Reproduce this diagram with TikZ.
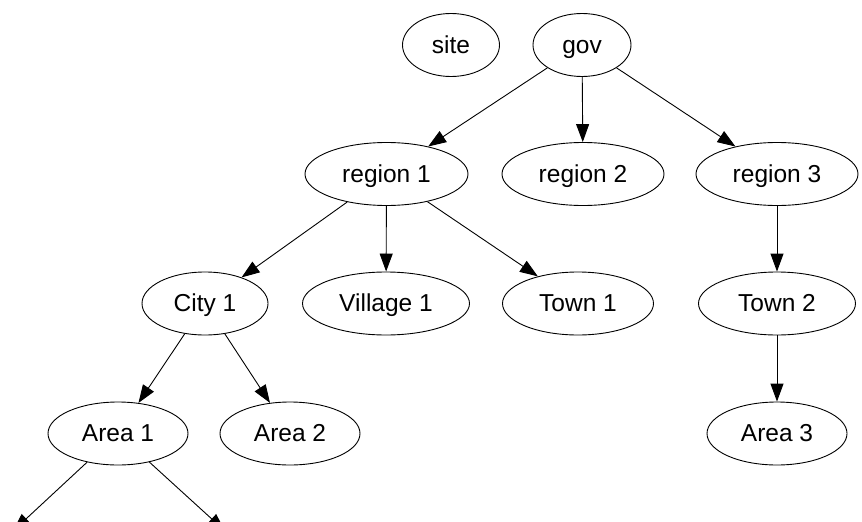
\documentclass[tikz,border=0pt]{standalone}
\usepackage{fontspec}
\setmainfont{Liberation Sans}
\usetikzlibrary{shapes.geometric,arrows.meta}
\begin{document}
\begin{tikzpicture}[x=1pt,y=-1pt,
  nd/.style={draw=black,line width=0.9pt,ellipse,inner sep=0pt,text height=17pt,text depth=1pt,font=\fontsize{24.5}{26}\selectfont},
  edge/.style={draw=black,line width=0.9pt,-{Triangle[length=18pt,width=13pt]}}]
\useasboundingbox (0,0) rectangle (862,522);
\clip (0,0) rectangle (862,522);
\fill[white] (0,0) rectangle (862,522);
\newcommand{\ellnode}[5]{%
  \node[nd,minimum width=#4pt,minimum height=63pt] (#1) at (#2,#3) {#5};}
\ellnode{site}{451}{45}{97}{site}
\ellnode{gov}{582}{45}{98}{gov}
\ellnode{r1}{386.5}{174}{163}{region 1}
\ellnode{r2}{583}{174}{162}{region 2}
\ellnode{r3}{777}{174}{162}{region 3}
\ellnode{c1}{205}{303.5}{126}{City 1}
\ellnode{v1}{386}{303.5}{167}{Village 1}
\ellnode{t1}{578}{303.5}{151}{Town 1}
\ellnode{t2}{777}{303.5}{157}{Town 2}
\ellnode{a1}{118}{433.5}{140}{Area 1}
\ellnode{a2}{290}{433.5}{140}{Area 2}
\ellnode{a3}{777}{433.5}{140}{Area 3}
\coordinate (x1) at (13,531);
\coordinate (x2) at (225,531);
\draw[edge] (gov) -- (r1);
\draw[edge] (gov) -- (r2);
\draw[edge] (gov) -- (r3);
\draw[edge] (r1) -- (c1);
\draw[edge] (r1) -- (v1);
\draw[edge] (r1) -- (t1);
\draw[edge] (r3) -- (t2);
\draw[edge] (t2) -- (a3);
\draw[edge] (c1) -- (a1);
\draw[edge] (c1) -- (a2);
\draw[edge] (a1) -- (x1);
\draw[edge] (a1) -- (x2);
\end{tikzpicture}
\end{document}
